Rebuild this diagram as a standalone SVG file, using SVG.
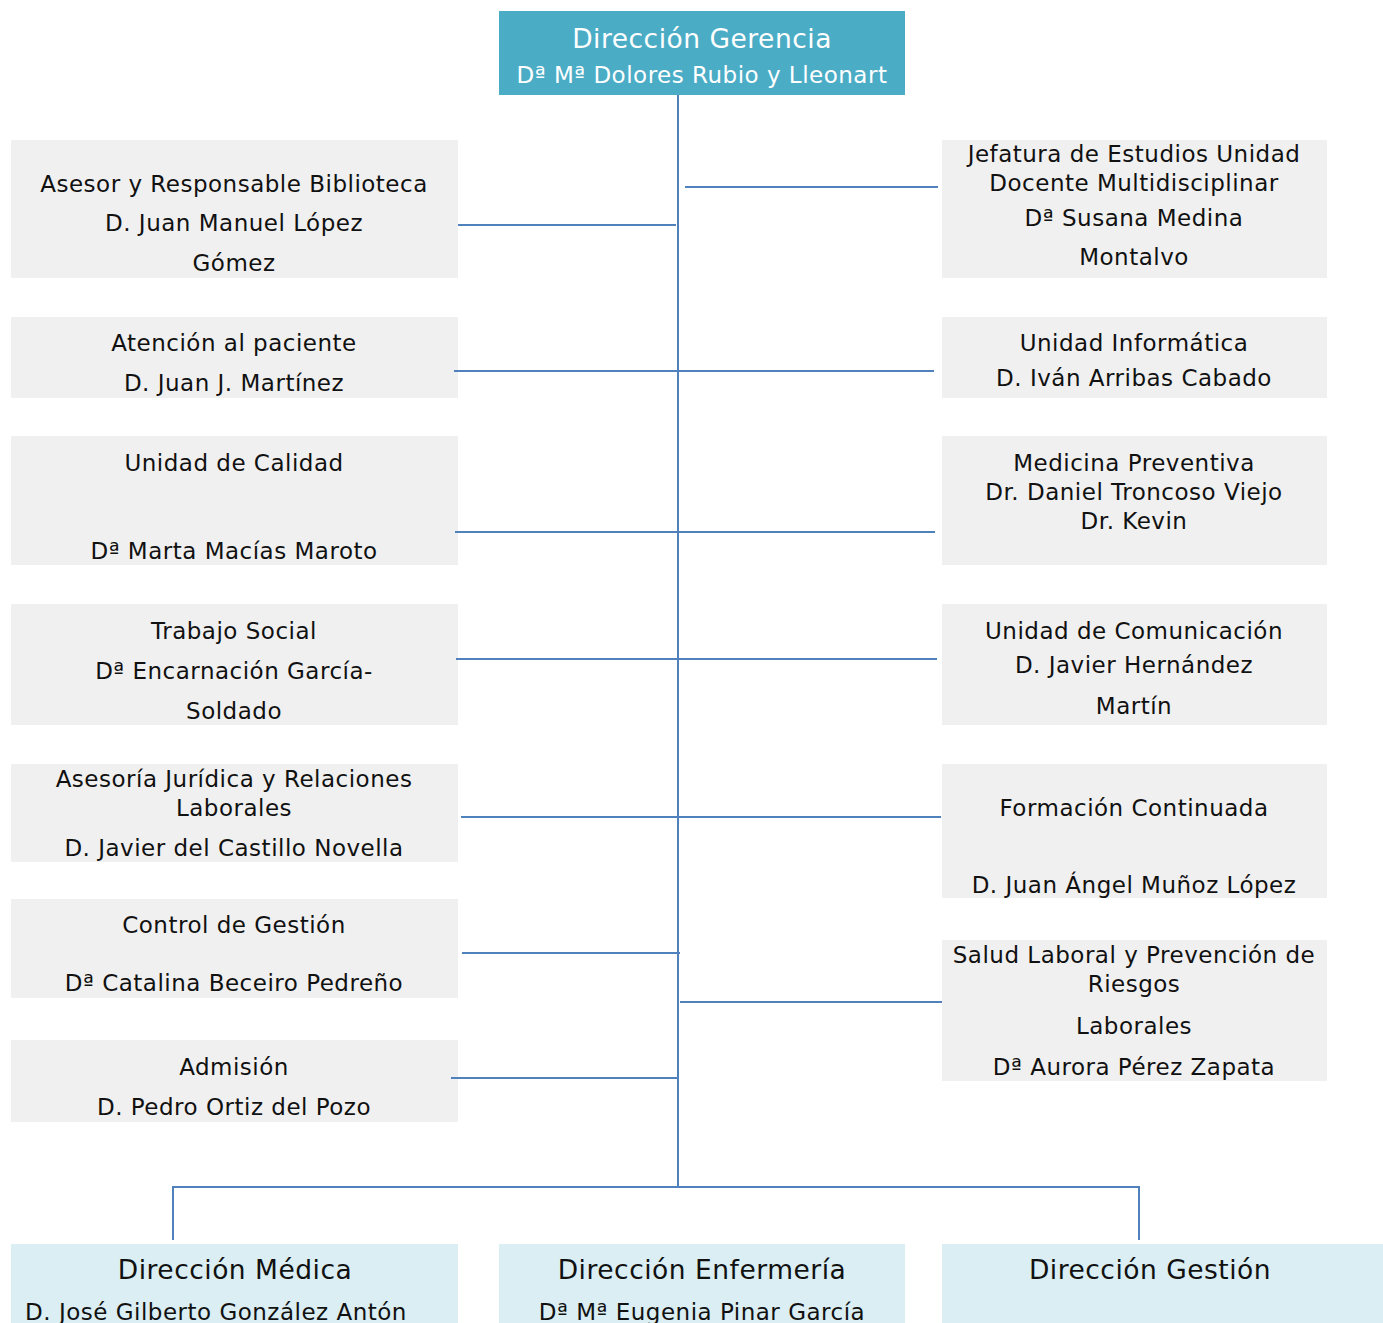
<svg xmlns="http://www.w3.org/2000/svg" width="1383" height="1323" viewBox="0 0 1383 1323">
<style>
.box{fill:#F0F0F0}
.top{fill:#4BACC6}
.dir{fill:#DAEEF3}
text{font-family:"DejaVu Sans","Open Sans",sans-serif;font-size:23px;letter-spacing:0.5px;fill:#111;text-anchor:middle}
.w{fill:#fff}
.big{font-size:26.5px}
.c line{stroke:#4F81BD;stroke-width:2}
</style>
<rect width="1383" height="1323" fill="#fff"/>
<g id="gerencia"><rect class="top" x="499" y="11" width="406" height="84"/>
<text class="w big" x="702" y="48">Dirección Gerencia</text>
<text class="w" x="702" y="83">Dª Mª Dolores Rubio y Lleonart</text></g>
<g id="biblioteca"><rect class="box" x="11" y="140" width="447" height="138"/>
<text x="234" y="192">Asesor y Responsable Biblioteca</text><text x="234" y="231">D. Juan Manuel López</text><text x="234" y="271">Gómez</text></g>
<g id="paciente"><rect class="box" x="11" y="317" width="447" height="81"/>
<text x="234" y="351">Atención al paciente</text><text x="234" y="391">D. Juan J. Martínez</text></g>
<g id="calidad"><rect class="box" x="11" y="436" width="447" height="129"/>
<text x="234" y="471">Unidad de Calidad</text><text x="234" y="559">Dª Marta Macías Maroto</text></g>
<g id="social"><rect class="box" x="11" y="604" width="447" height="121"/>
<text x="234" y="639">Trabajo Social</text><text x="234" y="679">Dª Encarnación García-</text><text x="234" y="719">Soldado</text></g>
<g id="juridica"><rect class="box" x="11" y="764" width="447" height="98"/>
<text x="234" y="787">Asesoría Jurídica y Relaciones</text><text x="234" y="816">Laborales</text><text x="234" y="856">D. Javier del Castillo Novella</text></g>
<g id="gestion"><rect class="box" x="11" y="899" width="447" height="99"/>
<text x="234" y="933">Control de Gestión</text><text x="234" y="991">Dª Catalina Beceiro Pedreño</text></g>
<g id="admision"><rect class="box" x="11" y="1040" width="447" height="82"/>
<text x="234" y="1075">Admisión</text><text x="234" y="1115">D. Pedro Ortiz del Pozo</text></g>
<g id="jefatura"><rect class="box" x="942" y="140" width="385" height="138"/>
<text x="1134" y="162">Jefatura de Estudios Unidad</text><text x="1134" y="191">Docente Multidisciplinar</text><text x="1134" y="226">Dª Susana Medina</text><text x="1134" y="265">Montalvo</text></g>
<g id="informatica"><rect class="box" x="942" y="317" width="385" height="81"/>
<text x="1134" y="351">Unidad Informática</text><text x="1134" y="386">D. Iván Arribas Cabado</text></g>
<g id="preventiva"><rect class="box" x="942" y="436" width="385" height="129"/>
<text x="1134" y="471">Medicina Preventiva</text><text x="1134" y="500">Dr. Daniel Troncoso Viejo</text><text x="1134" y="529">Dr. Kevin</text></g>
<g id="comunicacion"><rect class="box" x="942" y="604" width="385" height="121"/>
<text x="1134" y="639">Unidad de Comunicación</text><text x="1134" y="673">D. Javier Hernández</text><text x="1134" y="714">Martín</text></g>
<g id="formacion"><rect class="box" x="942" y="764" width="385" height="134"/>
<text x="1134" y="816">Formación Continuada</text><text x="1134" y="893">D. Juan Ángel Muñoz López</text></g>
<g id="salud"><rect class="box" x="942" y="940" width="385" height="141"/>
<text x="1134" y="963">Salud Laboral y Prevención de</text><text x="1134" y="992">Riesgos</text><text x="1134" y="1034">Laborales</text><text x="1134" y="1075">Dª Aurora Pérez Zapata</text></g>
<g id="medica"><rect class="dir" x="11" y="1244" width="447" height="79"/>
<text class="big" x="235" y="1279">Dirección Médica</text><text x="216" y="1320">D. José Gilberto González Antón</text></g>
<g id="enfermeria"><rect class="dir" x="499" y="1244" width="406" height="79"/>
<text class="big" x="702" y="1279">Dirección Enfermería</text><text x="702" y="1320">Dª Mª Eugenia Pinar García</text></g>
<g id="dgestion"><rect class="dir" x="942" y="1244" width="441" height="79"/>
<text class="big" x="1150" y="1279">Dirección Gestión</text></g>
<g class="c" id="connectors">
<line x1="678" y1="95" x2="678" y2="1188"/>
<line x1="458" y1="225" x2="676" y2="225"/>
<line x1="685" y1="187" x2="938" y2="187"/>
<line x1="454" y1="371" x2="934" y2="371"/>
<line x1="455" y1="532" x2="935" y2="532"/>
<line x1="456" y1="659" x2="937" y2="659"/>
<line x1="461" y1="817" x2="941" y2="817"/>
<line x1="462" y1="953" x2="680" y2="953"/>
<line x1="680" y1="1002" x2="942" y2="1002"/>
<line x1="451" y1="1078" x2="679" y2="1078"/>
<line x1="172" y1="1187" x2="1140" y2="1187"/>
<line x1="173" y1="1186" x2="173" y2="1240"/>
<line x1="1139" y1="1186" x2="1139" y2="1240"/>
</g>
</svg>
